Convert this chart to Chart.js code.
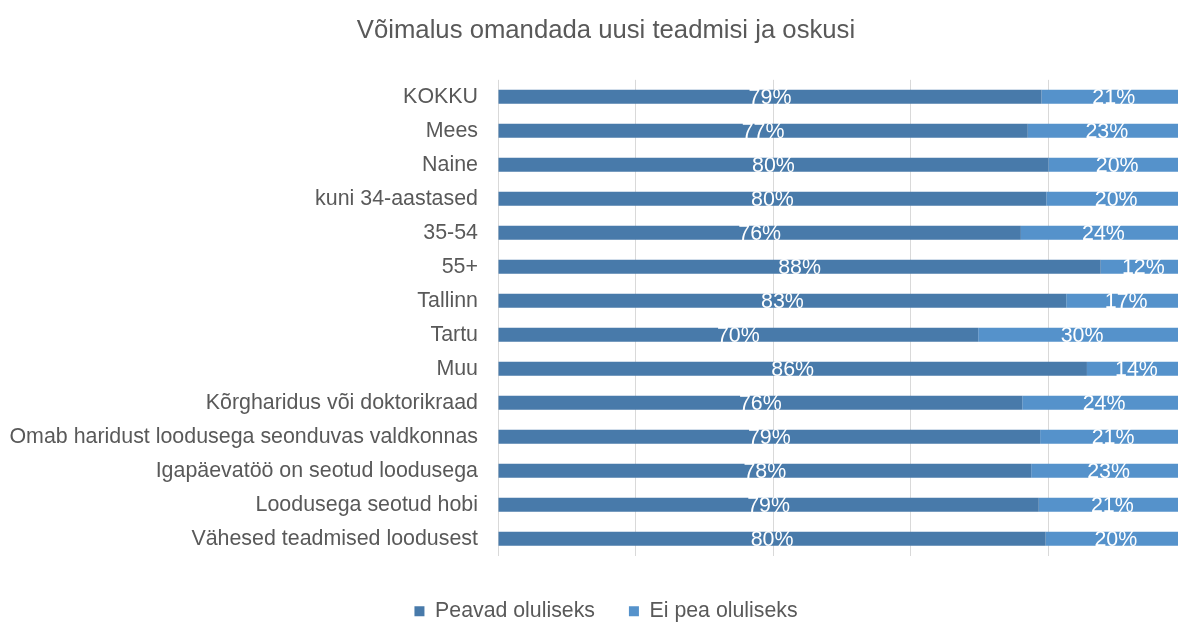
<!DOCTYPE html>
<html>
<head>
<meta charset="utf-8">
<script src="https://cdn.jsdelivr.net/npm/chart.js@4"></script>
<style>
  html, body { margin:0; padding:0; overflow:hidden; background:#fff; }
  #wrap { width:1212px; height:632px; position:relative; }
</style>
</head>
<body>
<div id="wrap"><canvas id="chart"></canvas></div>
<script>
// --- data (% of respondents) ---
const categories = [
  'KOKKU', 'Mees', 'Naine', 'kuni 34-aastased', '35-54', '55+', 'Tallinn', 'Tartu', 'Muu',
  'Kõrgharidus või doktorikraad', 'Omab haridust loodusega seonduvas valdkonnas',
  'Igapäevatöö on seotud loodusega', 'Loodusega seotud hobi', 'Vähesed teadmised loodusest'
];
const important    = [79.0, 77.0, 80.0, 79.7, 76.0, 87.6, 82.6, 69.8, 85.6, 76.2, 78.8, 77.5, 78.6, 79.6];
const notImportant = [21.0, 23.0, 20.0, 20.3, 24.0, 12.4, 17.4, 30.2, 14.4, 23.8, 21.2, 22.5, 21.4, 20.4];
const xTicks = [0, 20, 40, 60, 80, 100];

const FONT = '"Liberation Sans", Arial, sans-serif';
const GREY = '#595959';

// white % labels in the middle of each segment
const segLabels = {
  id: 'segLabels',
  afterDatasetsDraw(chart){
    const ctx = chart.ctx;
    ctx.save();
    ctx.font = '21.4px ' + FONT;
    ctx.fillStyle = '#ffffff';
    ctx.textAlign = 'center';
    ctx.textBaseline = 'middle';
    chart.data.datasets.forEach((ds, i) => {
      chart.getDatasetMeta(i).data.forEach((bar, j) => {
        const cx = (bar.x + bar.base) / 2;
        ctx.fillText(Math.round(ds.data[j]) + '%', cx, bar.y + 1.5);
      });
    });
    ctx.restore();
  }
};

// center title and legend on the whole canvas, not the padded box
const fullWidthBoxes = {
  id: 'fullWidthBoxes',
  afterLayout(chart){
    [chart.titleBlock, chart.legend].forEach(b => {
      if (!b) return;
      b.left = 0;
      b.right = chart.width;
    });
  }
};

new Chart(document.getElementById('chart'), {
  type: 'bar',
  data: {
    labels: categories,
    datasets: [
      { label: 'Peavad oluliseks', data: important, backgroundColor: '#487AAA', barPercentage: 0.41, categoryPercentage: 1 },
      { label: 'Ei pea oluliseks', data: notImportant, backgroundColor: '#5592CB', barPercentage: 0.41, categoryPercentage: 1 }
    ]
  },
  options: {
    indexAxis: 'y',
    responsive: true,
    maintainAspectRatio: false,
    animation: false,
    layout: { padding: { left: 0, right: 26, top: 0, bottom: 0 } },
    plugins: {
      title: {
        display: true,
        text: 'Võimalus omandada uusi teadmisi ja oskusi',
        color: GREY,
        font: { family: FONT, size: 25.7, weight: 'normal' },
        padding: { top: 15, bottom: 34 }
      },
      legend: {
        position: 'bottom',
        labels: {
          color: GREY,
          font: { family: FONT, size: 21.3 },
          boxWidth: 10, boxHeight: 10,
          padding: 34
        }
      },
      tooltip: { enabled: false }
    },
    scales: {
      x: {
        stacked: true,
        min: 0, max: 100,
        afterBuildTicks: s => { s.ticks = xTicks.map(v => ({ value: v })); },
        ticks: { display: false },
        grid: { color: '#d9d9d9', drawTicks: false },
        border: { display: false },
        afterFit: s => { s.height = 11; }
      },
      y: {
        stacked: true,
        ticks: { color: GREY, font: { family: FONT, size: 21.4 }, padding: 20 },
        grid: { display: false, drawTicks: false },
        border: { display: false },
        afterFit: s => { s.width = 498; }
      }
    }
  },
  plugins: [segLabels, fullWidthBoxes]
});
</script>
</body>
</html>
